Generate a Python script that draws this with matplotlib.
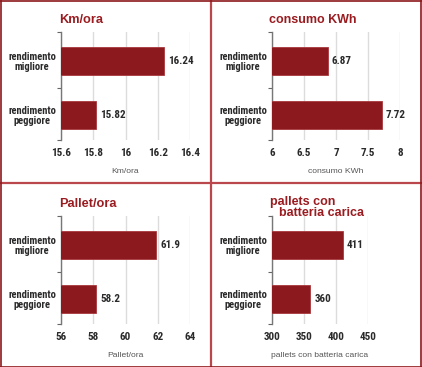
import matplotlib
matplotlib.use("Agg")
import matplotlib.pyplot as plt
import matplotlib.transforms as mtrans
from matplotlib.lines import Line2D
from matplotlib import font_manager

categories = ["rendimento\nmigliore", "rendimento\npeggiore"]

titles = ["Km/ora", "consumo KWh", "Pallet/ora", "pallets con\nbatteria carica"]
xlabels = ["Km/ora", "consumo KWh", "Pallet/ora", "pallets con batteria carica"]

km_values = [16.24, 15.82]
kwh_values = [6.87, 7.72]
pallet_values = [61.9, 58.2]
battery_values = [411, 360]

km_labels = ["16.24", "15.82"]
kwh_labels = ["6.87", "7.72"]
pallet_labels = ["61.9", "58.2"]
battery_labels = ["411", "360"]

km_ticks = [15.6, 15.8, 16.0, 16.2, 16.4]
kwh_ticks = [6, 6.5, 7, 7.5, 8]
pallet_ticks = [56, 58, 60, 62, 64]
battery_ticks = [300, 350, 400, 450]

km_ticklabels = ["15.6", "15.8", "16", "16.2", "16.4"]
kwh_ticklabels = ["6", "6.5", "7", "7.5", "8"]
pallet_ticklabels = ["56", "58", "60", "62", "64"]
battery_ticklabels = ["300", "350", "400", "450"]

W, H = 422, 367
fig = plt.figure(figsize=(W / 100, H / 100), dpi=100)
fig.patch.set_facecolor("white")

entries = font_manager.fontManager.ttflist
names = {f.name for f in entries}
if "Liberation Sans Narrow" in names:
    NARROW = dict(family="Liberation Sans Narrow")
    CAT_SIZE, TICK_SIZE, VAL_SIZE = 7.4, 8.0, 8.0
elif "Roboto Condensed" in names:
    NARROW = dict(family="Roboto Condensed")
    CAT_SIZE, TICK_SIZE, VAL_SIZE = 7.6, 8.0, 8.0
else:
    NARROW = dict(family="Liberation Sans")
    CAT_SIZE, TICK_SIZE, VAL_SIZE = 6.5, 7.0, 7.0

BAR = "#8c191d"
EDGE = "#a8383c"
TITLE_C = "#9a1c21"
TXT = "#2a2a2a"


def fx(px):
    return px / W


def fy(py):
    return 1 - py / H


panels = [
    (0, 0, 190, km_values, km_labels, km_ticks, km_ticklabels, (15.6, 16.4)),
    (211, 0, 189, kwh_values, kwh_labels, kwh_ticks, kwh_ticklabels, (6, 8)),
    (0, 184, 190, pallet_values, pallet_labels, pallet_ticks, pallet_ticklabels, (56, 64)),
    (211, 184, 157, battery_values, battery_labels, battery_ticks, battery_ticklabels, (300, 450)),
]

ypos = [1, 0]
ylo, yhi = -0.463, 1.537

for i, (ox, oy, right, vals, labs, ticks, tlabs, xl) in enumerate(panels):
    left, top, bottom = 61, 32, 140
    ax = fig.add_axes([fx(ox + left), fy(oy + bottom),
                       (right - left) / W, (bottom - top) / H])
    ax.barh(ypos, vals, height=0.52, color=BAR, edgecolor=EDGE, linewidth=0.6, zorder=3)
    ax.set_xlim(*xl)
    ax.set_ylim(ylo, yhi)
    ax.set_xticks(ticks)
    ax.set_xticklabels(tlabs, fontweight="bold", fontsize=TICK_SIZE, color=TXT, **NARROW)
    ax.tick_params(axis="x", length=0, pad=6)
    ax.set_yticks(ypos)
    ax.set_yticklabels(categories, fontweight="bold", fontsize=CAT_SIZE,
                       color=TXT, linespacing=0.95, multialignment="center", **NARROW)
    ax.tick_params(axis="y", length=0, pad=5)
    ax.set_yticks([ylo, 0.5, yhi], minor=True)
    ax.tick_params(axis="y", which="minor", length=3, width=0.8, color="#666666")
    ax.grid(axis="x", color="#dcdcdc", linewidth=1.0, zorder=0)
    for s in ["top", "right", "bottom"]:
        ax.spines[s].set_visible(False)
    ax.spines["left"].set_color("#777777")
    ax.spines["left"].set_linewidth(1.0)
    ax.set_xlabel(xlabels[i], fontsize=6.1, color="#555555", labelpad=7,
                  fontfamily="Liberation Sans")
    for y, v, t in zip(ypos, vals, labs):
        ax.annotate(t, (v, y), xytext=(4, 0), textcoords="offset pixels",
                    ha="left", va="center", fontweight="bold",
                    fontsize=VAL_SIZE, color=TXT, zorder=4, **NARROW)
    ax.set_facecolor("white")

# centre the category labels about x = 32 px from each panel's left edge
fig.canvas.draw()
for ax, (ox, oy, *_r) in zip(fig.axes, panels):
    for lab in ax.get_yticklabels():
        lab.set_transform(mtrans.blended_transform_factory(fig.transFigure, ax.transData))
        lab.set_horizontalalignment("center")
        lab.set_x(fx(ox + 32))

# titles
tkw = dict(fontweight="bold", color=TITLE_C, fontfamily="Liberation Sans",
           ha="left", va="baseline")
fig.text(fx(59), fy(23), titles[0], fontsize=9.2, **tkw)
fig.text(fx(211 + 58), fy(23), titles[1], fontsize=9.0, **tkw)
fig.text(fx(59), fy(184 + 23), titles[2], fontsize=9.2, **tkw)
t1, t2 = titles[3].split("\n")
fig.text(fx(211 + 59), fy(184 + 21), t1, fontsize=9.0, **tkw)
fig.text(fx(211 + 68), fy(184 + 32), t2, fontsize=9.0, **tkw)

# borders
DIV = "#b9474c"
fig.add_artist(Line2D([fx(211), fx(211)], [0, 1], color=DIV, linewidth=1.6,
                      transform=fig.transFigure))
fig.add_artist(Line2D([0, 1], [fy(183), fy(183)], color=DIV, linewidth=1.6,
                      transform=fig.transFigure))
OUT = "#8c191d"
for xs, ys in [([fx(0.7), fx(0.7)], [0, 1]), ([fx(421.3), fx(421.3)], [0, 1]),
               ([0, 1], [fy(0.5), fy(0.5)]), ([0, 1], [fy(366.5), fy(366.5)])]:
    fig.add_artist(Line2D(xs, ys, color=OUT, linewidth=1.2, transform=fig.transFigure))

fig.savefig("out.png", dpi=100, facecolor="white")
